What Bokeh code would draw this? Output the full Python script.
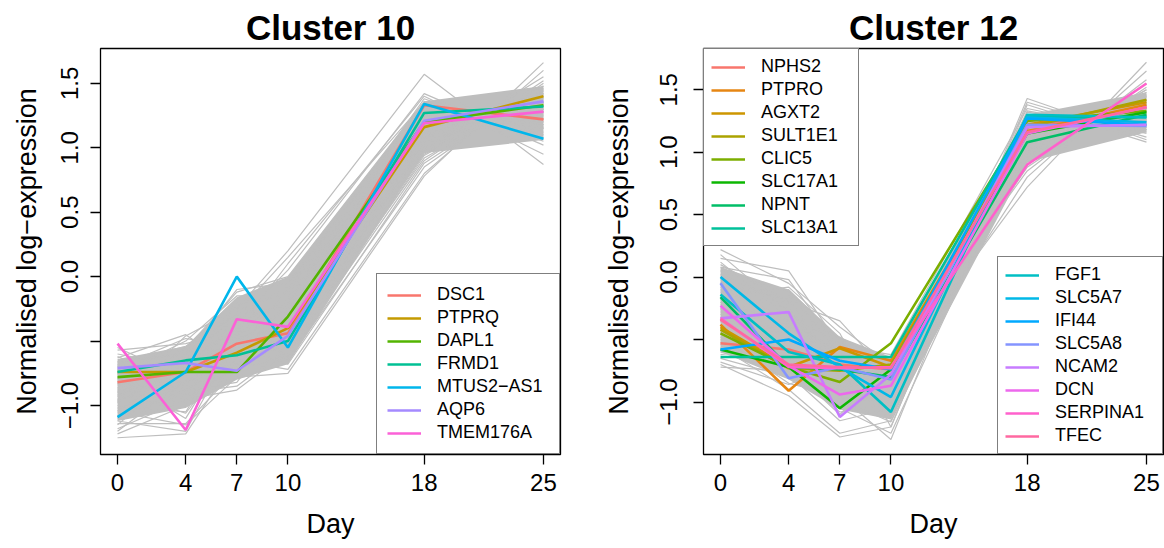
import math
from bokeh.plotting import figure
from bokeh.models import FixedTicker, Legend, LegendItem, Range1d
from bokeh.layouts import row
from bokeh.embed import file_html
from bokeh.resources import INLINE

# ---------------- data ----------------
days = [0, 4, 7, 10, 18, 25]
y_ticks = [-1.0, -0.5, 0.0, 0.5, 1.0, 1.5]
y_tick_labels = {-1.0: "\u22121.0", -0.5: "", 0.0: "0.0", 0.5: "0.5", 1.0: "1.0", 1.5: "1.5"}

c10_title = "Cluster 10"
c10_genes = ["DSC1", "PTPRQ", "DAPL1", "FRMD1", "MTUS2\u2212AS1", "AQP6", "TMEM176A"]
c10_values = [
    [-0.82, -0.74, -0.52, -0.44, 1.33, 1.22],
    [-0.74, -0.74, -0.59, -0.40, 1.16, 1.40],
    [-0.78, -0.74, -0.74, -0.31, 1.20, 1.33],
    [-0.74, -0.65, -0.61, -0.50, 1.27, 1.32],
    [-1.09, -0.74, 0.00, -0.55, 1.34, 1.07],
    [-0.71, -0.67, -0.73, -0.46, 1.21, 1.36],
    [-0.52, -1.19, -0.33, -0.39, 1.19, 1.28],
]
# dense core of the grey cluster members
c10_core_low = [-1.12, -1.02, -0.80, -0.68, 0.96, 1.06]
c10_core_high = [-0.64, -0.54, -0.16, 0.00, 1.36, 1.48]
c10_background = [
    [-1.25, -1.22, -0.62, -0.55, 1.05, 1.30],
    [-1.18, -0.95, -0.70, -0.42, 1.10, 1.42],
    [-1.12, -1.20, -0.48, -0.60, 0.98, 1.55],
    [-1.08, -0.88, -0.82, -0.30, 1.25, 1.20],
    [-1.04, -0.72, -0.55, -0.68, 0.88, 1.48],
    [-1.00, -1.05, -0.40, -0.20, 1.30, 1.15],
    [-0.98, -0.62, -0.75, -0.48, 1.02, 1.35],
    [-0.95, -0.85, -0.30, -0.35, 1.18, 1.27],
    [-0.92, -0.55, -0.58, -0.10, 1.38, 1.05],
    [-0.90, -0.98, -0.65, -0.72, 0.80, 1.60],
    [-0.88, -0.78, -0.22, -0.40, 1.12, 1.32],
    [-0.86, -0.66, -0.50, -0.25, 1.22, 1.25],
    [-0.84, -0.90, -0.85, -0.55, 0.95, 1.45],
    [-0.82, -0.58, -0.35, 0.05, 1.42, 1.02],
    [-0.80, -0.74, -0.60, -0.45, 1.08, 1.38],
    [-0.78, -1.10, -0.45, -0.32, 1.15, 1.30],
    [-0.76, -0.50, -0.15, -0.15, 1.28, 1.18],
    [-0.74, -0.82, -0.68, -0.62, 0.90, 1.52],
    [-0.72, -0.64, -0.28, 0.15, 1.35, 1.10],
    [-0.70, -0.48, -0.55, -0.38, 1.20, 1.28],
    [-0.68, -0.92, -0.38, -0.50, 1.00, 1.40],
    [-0.66, -0.60, -0.10, -0.05, 1.32, 1.15],
    [-0.63, -0.45, -0.72, -0.28, 1.18, 1.22],
    [-0.60, -0.70, -0.20, -0.45, 1.05, 1.35],
    [-0.57, -0.52, -0.42, 0.10, 1.40, 0.95],
    [-0.55, -0.80, -0.58, -0.65, 0.85, 1.50],
    [-1.22, -1.00, -0.52, -0.35, 1.22, 1.28],
    [-1.15, -0.70, -0.36, -0.18, 1.30, 1.20],
    [-1.05, -1.15, -0.78, -0.75, 0.78, 1.66],
    [-0.97, -0.46, -0.25, 0.20, 1.57, 0.87],
    [-0.93, -0.68, -0.46, -0.42, 1.10, 1.36],
    [-0.87, -0.84, -0.62, -0.30, 1.15, 1.30],
    [-0.83, -0.62, -0.32, -0.22, 1.26, 1.24],
    [-0.79, -0.95, -0.88, -0.58, 0.92, 1.44],
    [-0.73, -0.56, -0.12, 0.00, 1.36, 1.12],
    [-0.69, -0.76, -0.48, -0.38, 1.12, 1.32],
    [-1.20, -0.80, -0.66, -0.52, 1.00, 1.30],
    [-1.10, -0.60, -0.44, -0.26, 1.24, 1.26],
    [-1.02, -0.92, -0.70, -0.36, 1.14, 1.34],
    [-0.96, -0.72, -0.26, -0.12, 1.30, 1.18],
    [-0.89, -1.06, -0.55, -0.48, 1.06, 1.38],
    [-0.81, -0.68, -0.40, -0.34, 1.18, 1.28],
    [-0.75, -0.88, -0.64, -0.20, 1.26, 1.22],
    [-0.67, -0.54, -0.30, -0.08, 1.34, 1.16],
    [-0.62, -0.84, -0.50, -0.56, 0.96, 1.42],
    [-1.14, -1.14, -0.72, -0.62, 0.94, 1.46],
]

c12_title = "Cluster 12"
c12_genes = ["NPHS2", "PTPRO", "AGXT2", "SULT1E1", "CLIC5", "SLC17A1", "NPNT", "SLC13A1",
             "FGF1", "SLC5A7", "IFI44", "SLC5A8", "NCAM2", "DCN", "SERPINA1", "TFEC"]
c12_values = [
    [-0.53, -0.58, -0.70, -0.74, 1.20, 1.36],
    [-0.38, -0.91, -0.56, -0.67, 1.17, 1.38],
    [-0.40, -0.72, -0.57, -0.72, 1.22, 1.40],
    [-0.42, -0.73, -0.75, -0.70, 1.20, 1.42],
    [-0.45, -0.72, -0.84, -0.53, 1.25, 1.33],
    [-0.58, -0.72, -1.05, -0.74, 1.15, 1.32],
    [-0.16, -0.72, -0.74, -0.80, 1.08, 1.30],
    [-0.64, -0.64, -0.64, -0.64, 1.28, 1.28],
    [-0.14, -0.60, -0.70, -1.08, 1.30, 1.28],
    [0.00, -0.45, -0.72, -0.96, 1.28, 1.24],
    [-0.58, -0.50, -0.67, -0.74, 1.27, 1.22],
    [-0.05, -0.81, -0.72, -0.82, 1.22, 1.21],
    [-0.33, -0.28, -1.12, -0.78, 1.20, 1.22],
    [-0.23, -0.71, -0.94, -0.87, 1.15, 1.36],
    [-0.33, -0.72, -0.73, -0.72, 0.90, 1.55],
    [-0.34, -0.70, -0.72, -0.73, 1.16, 1.36],
]
c12_core_low = [-0.60, -0.82, -1.06, -1.14, 0.92, 1.16]
c12_core_high = [0.08, -0.10, -0.48, -0.64, 1.30, 1.48]
c12_background = [
    [0.22, -0.05, -0.40, -0.70, 1.20, 1.30],
    [0.15, 0.05, -0.55, -0.62, 1.35, 1.15],
    [0.10, -0.20, -0.35, -0.80, 1.05, 1.45],
    [0.05, -0.12, -0.62, -0.95, 1.25, 1.25],
    [0.00, -0.30, -0.48, -0.72, 0.90, 1.55],
    [-0.05, -0.18, -0.70, -1.10, 1.30, 1.20],
    [-0.08, -0.40, -0.58, -0.66, 1.15, 1.35],
    [-0.12, -0.25, -0.85, -0.88, 0.80, 1.65],
    [-0.15, -0.08, -0.45, -1.20, 1.40, 1.12],
    [-0.18, -0.48, -0.75, -0.78, 1.00, 1.45],
    [-0.22, -0.35, -0.60, -1.00, 1.22, 1.28],
    [-0.25, -0.60, -0.92, -0.70, 0.95, 1.50],
    [-0.28, -0.15, -0.52, -0.85, 1.32, 1.18],
    [-0.32, -0.55, -1.05, -1.25, 1.10, 1.38],
    [-0.35, -0.70, -0.68, -0.64, 0.85, 1.58],
    [-0.38, -0.42, -0.80, -0.92, 1.28, 1.22],
    [-0.42, -0.78, -1.15, -1.05, 1.18, 1.30],
    [-0.45, -0.52, -0.58, -0.75, 0.72, 1.72],
    [-0.48, -0.85, -0.95, -1.30, 1.38, 1.08],
    [-0.52, -0.62, -0.72, -0.82, 1.05, 1.40],
    [-0.56, -0.90, -1.25, -1.15, 1.25, 1.25],
    [-0.60, -0.66, -0.88, -0.68, 0.92, 1.48],
    [-0.65, -0.80, -1.00, -0.98, 1.15, 1.32],
    [-0.70, -0.95, -1.28, -1.20, 1.43, 1.10],
    [-0.72, -0.75, -0.78, -0.90, 0.98, 1.42],
    [0.02, -0.22, -0.90, -0.76, 1.12, 1.36],
    [-0.10, -0.58, -0.64, -1.08, 1.20, 1.30],
    [-0.30, -0.10, -0.50, -0.90, 1.28, 1.22],
    [-0.20, -0.72, -1.10, -0.72, 0.88, 1.52],
    [-0.40, -0.45, -0.66, -1.02, 1.33, 1.16],
    [-0.50, -0.68, -0.82, -0.86, 1.08, 1.38],
    [-0.62, -0.55, -0.96, -0.95, 1.02, 1.42],
    [0.12, -0.32, -0.72, -0.84, 1.18, 1.26],
    [-0.02, -0.50, -0.84, -1.12, 1.24, 1.24],
    [-0.36, -0.28, -0.56, -0.74, 1.00, 1.46],
    [0.18, -0.28, -0.66, -0.90, 1.26, 1.20],
    [-0.04, -0.36, -0.98, -1.16, 1.06, 1.44],
    [-0.26, -0.64, -0.76, -0.94, 1.14, 1.34],
    [-0.44, -0.36, -0.62, -0.80, 1.22, 1.26],
    [-0.54, -0.74, -1.08, -1.02, 0.96, 1.50],
    [0.08, -0.02, -0.58, -0.86, 1.30, 1.18],
    [-0.16, -0.40, -0.90, -1.04, 1.10, 1.40],
    [-0.68, -0.86, -0.70, -0.76, 1.02, 1.36],
]

# ---------------- styling helpers ----------------
FONT = "Liberation Sans"
GREY = "#BEBEBE"


def hcl_hex(h, c=100.0, l=65.0):
    hr = math.radians(h)
    U, V = c * math.cos(hr), c * math.sin(hr)
    Xn, Yn, Zn = 95.047, 100.0, 108.883
    den = Xn + 15 * Yn + 3 * Zn
    un, vn = 4 * Xn / den, 9 * Yn / den
    Y = Yn * ((l + 16) / 116) ** 3
    u = U / (13 * l) + un
    v = V / (13 * l) + vn
    X = 9.0 * Y * u / (4 * v)
    Z = -X / 3 - 5 * Y + 3 * Y / v
    X, Y, Z = X / 100, Y / 100, Z / 100
    rgb = [3.240479 * X - 1.537150 * Y - 0.498535 * Z,
           -0.969256 * X + 1.875992 * Y + 0.041556 * Z,
           0.055648 * X - 0.204043 * Y + 1.057311 * Z]
    out = []
    for t in rgb:
        t = 12.92 * t if t <= 0.0031308 else 1.055 * t ** (1 / 2.4) - 0.055
        out.append(int(round(min(max(t, 0), 1) * 255)))
    return "#%02X%02X%02X" % tuple(out)


def hue_pal(n):
    return [hcl_hex(15 + i * 360.0 / n) for i in range(n)]


def make_panel(title, genes, values, background, core_low, core_high, y_lo, y_hi, left, right,
               legend_groups, ylab_standoff, ytick_standoff):
    p = figure(width=582, height=548, x_range=Range1d(-1, 26), y_range=Range1d(y_lo, y_hi),
               output_backend="svg", toolbar_location=None,
               min_border_left=left, min_border_right=right,
               min_border_top=48, min_border_bottom=94)
    p.grid.visible = False
    p.outline_line_color = "black"
    p.outline_line_width = 1.3
    p.background_fill_color = "white"
    p.border_fill_color = "white"

    p.title.text = title
    p.title.align = "center"
    p.title.text_font = FONT
    p.title.text_font_size = "35px"
    p.title.text_font_style = "bold"
    p.title.text_color = "black"
    p.title.standoff = 4

    p.varea(x=days, y1=core_low, y2=core_high, fill_color=GREY, fill_alpha=1.0)
    p.multi_line(xs=[days] * len(background), ys=background, line_color=GREY, line_width=1.2)

    cols = hue_pal(len(genes))
    rends = []
    for g, vals, col in zip(genes, values, cols):
        rends.append(p.line(days, vals, line_color=col, line_width=2.6))

    for ax in (p.xaxis[0], p.yaxis[0]):
        ax.axis_line_color = None
        ax.major_tick_in = 0
        ax.major_tick_out = 10
        ax.major_tick_line_color = "black"
        ax.major_tick_line_width = 1.3
        ax.minor_tick_line_color = None
        ax.major_label_text_font = FONT
        ax.major_label_text_font_size = "24px"
        ax.major_label_text_color = "black"
        ax.axis_label_text_font = FONT
        ax.axis_label_text_font_size = "27px"
        ax.axis_label_text_font_style = "normal"
        ax.axis_label_text_color = "black"

    p.xaxis.ticker = FixedTicker(ticks=days)
    p.xaxis.axis_label = "Day"
    p.xaxis.major_label_standoff = 9
    p.xaxis.axis_label_standoff = 15

    p.yaxis.ticker = FixedTicker(ticks=y_ticks)
    p.yaxis.major_label_overrides = y_tick_labels
    p.yaxis.major_label_orientation = "vertical"
    p.yaxis.axis_label = "Normalised log\u2212expression"
    p.yaxis.major_label_standoff = ytick_standoff
    p.yaxis.axis_label_standoff = ylab_standoff

    for (start, stop, loc, lw, pad) in legend_groups:
        items = [LegendItem(label=genes[i], renderers=[rends[i]]) for i in range(start, stop)]
        leg = Legend(items=items, location=loc, margin=0, padding=pad, spacing=2,
                     glyph_width=34, glyph_height=20, label_height=20, label_standoff=16,
                     label_width=lw,
                     label_text_font=FONT, label_text_font_size="18px", label_text_color="black",
                     border_line_color="black", border_line_width=1.3,
                     background_fill_color="white", background_fill_alpha=1.0)
        p.add_layout(leg)
    return p


p1 = make_panel(c10_title, c10_genes, c10_values, c10_background, c10_core_low, c10_core_high,
                -1.38, 1.77, 100, 22,
                [(0, 7, "bottom_right", 112, 10)], ylab_standoff=17, ytick_standoff=12)
p2 = make_panel(c12_title, c12_genes, c12_values, c12_background, c12_core_low, c12_core_high,
                -1.42, 1.83, 121, 1,
                [(0, 8, "top_left", 90, 7), (8, 16, "bottom_right", 100, 7)],
                ylab_standoff=24, ytick_standoff=16)

layout = row(p1, p2)
open("out.html", "w").write(file_html(layout, INLINE))
